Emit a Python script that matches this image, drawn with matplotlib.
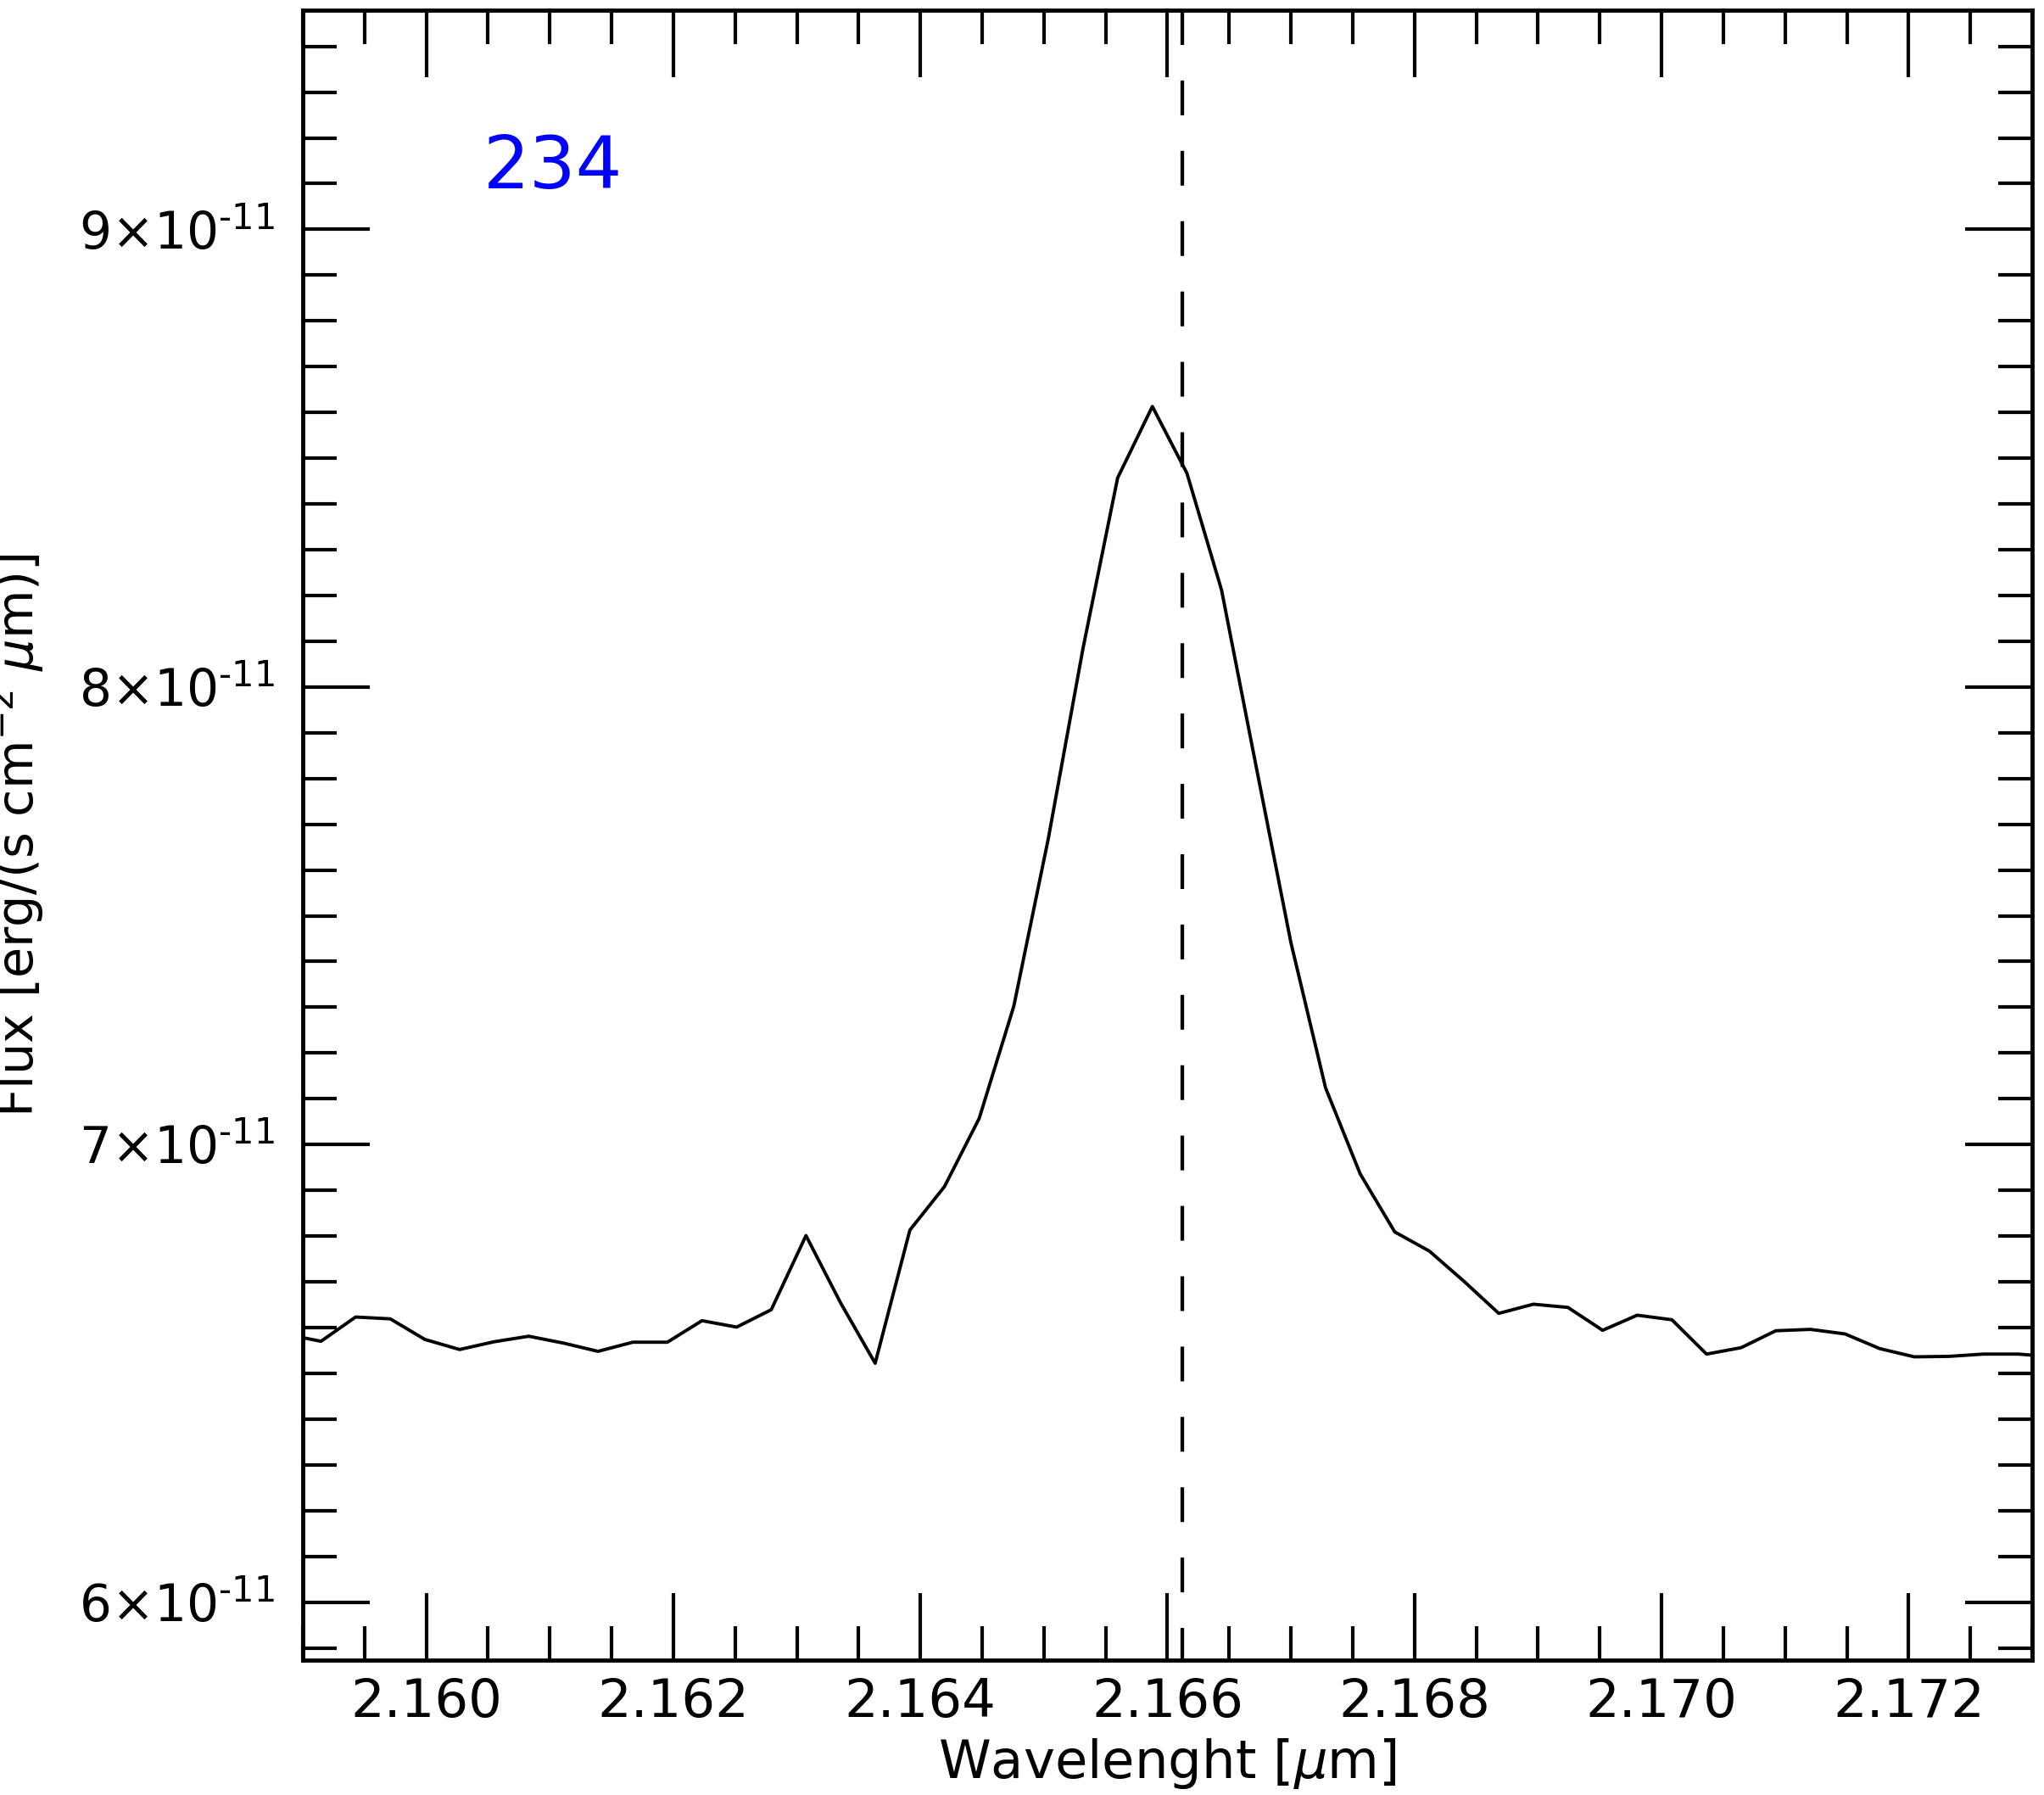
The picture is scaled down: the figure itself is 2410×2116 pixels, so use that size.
import matplotlib
matplotlib.use("Agg")
import matplotlib.pyplot as plt
from matplotlib.ticker import MultipleLocator, FixedLocator, FixedFormatter

# spectrum around Br-gamma (flux in units of 1e-11)
wave = [2.158868, 2.159148, 2.159428, 2.159709, 2.159989, 2.160270, 2.160550,
        2.160830, 2.161111, 2.161391, 2.161672, 2.161952, 2.162232, 2.162513,
        2.162793, 2.163074, 2.163354, 2.163634, 2.163915, 2.164195, 2.164476,
        2.164756, 2.165036, 2.165317, 2.165597, 2.165878, 2.166158, 2.166438,
        2.166719, 2.166999, 2.167280, 2.167560, 2.167840, 2.168121, 2.168401,
        2.168682, 2.168962, 2.169242, 2.169523, 2.169803, 2.170084, 2.170364,
        2.170644, 2.170925, 2.171205, 2.171486, 2.171766, 2.172046, 2.172327,
        2.172607, 2.172888, 2.173168]
flux = [6.585, 6.570, 6.623, 6.619, 6.574, 6.552, 6.569, 6.581, 6.566, 6.548,
        6.568, 6.568, 6.615, 6.601, 6.639, 6.801, 6.654, 6.522, 6.813, 6.908,
        7.057, 7.302, 7.669, 8.085, 8.457, 8.613, 8.467, 8.212, 7.825, 7.442,
        7.124, 6.936, 6.809, 6.767, 6.701, 6.631, 6.651, 6.644, 6.594, 6.627,
        6.617, 6.542, 6.556, 6.593, 6.596, 6.586, 6.554, 6.536, 6.537, 6.542,
        6.542, 6.536]
flux = [f * 1e-11 for f in flux]

line_center = 2.16612
label_text = "234"

xticks = [2.160, 2.162, 2.164, 2.166, 2.168, 2.170, 2.172]
xtick_labels = ["2.160", "2.162", "2.164", "2.166", "2.168", "2.170", "2.172"]
yticks = [6e-11, 7e-11, 8e-11, 9e-11]
ytick_labels = [r"$6{\times}10^{\text{-11}}$", r"$7{\times}10^{\text{-11}}$",
                r"$8{\times}10^{\text{-11}}$", r"$9{\times}10^{\text{-11}}$"]

plt.rcParams['lines.scale_dashes'] = False
fs = 45

fig = plt.figure(figsize=(24.1, 21.16), dpi=100)
ax = fig.add_axes([0.1481, 0.0751, 0.9942 - 0.1481, 0.9943 - 0.0751])

ax.plot(wave, flux, color='black', lw=2.8)
# drawn top -> bottom so the dash pattern starts at the upper spine
ax.axvline(line_center, ymin=1, ymax=0, color='black', lw=3.1,
           dashes=(29.5, 30.2))
ax.text(2.16046, 9.089e-11, label_text, color='#0000ff', fontsize=62,
        ha='left', va='baseline')

ax.set_xlim(2.159, 2.173)
ax.set_ylim(5.873e-11, 9.479e-11)

ax.xaxis.set_major_locator(FixedLocator(xticks))
ax.xaxis.set_major_formatter(FixedFormatter(xtick_labels))
ax.xaxis.set_minor_locator(MultipleLocator(0.0005))
ax.yaxis.set_major_locator(FixedLocator(yticks))
ax.yaxis.set_major_formatter(FixedFormatter(ytick_labels))
ax.yaxis.set_minor_locator(MultipleLocator(1e-12))

ax.tick_params(which='both', direction='in', top=True, right=True, width=3)
ax.tick_params(which='major', length=57)
ax.tick_params(which='minor', length=29)
ax.tick_params(axis='x', which='major', labelsize=fs, pad=14)
ax.tick_params(axis='y', which='major', labelsize=43, pad=24)
for s in ax.spines.values():
    s.set_linewidth(3.5)

fig.text(1376 / 2410, 1 - 2096 / 2116, r"Wavelenght [$\mu$m]", fontsize=fs,
         ha='center', va='baseline')
fig.text(40 / 2410, 1 - 984.5 / 2116, r"Flux [erg/(s cm$^{-2}$ $\mu$m)]",
         fontsize=42.5, rotation=90, rotation_mode='anchor', ha='center',
         va='baseline')

fig.savefig("out.png", dpi=100)
